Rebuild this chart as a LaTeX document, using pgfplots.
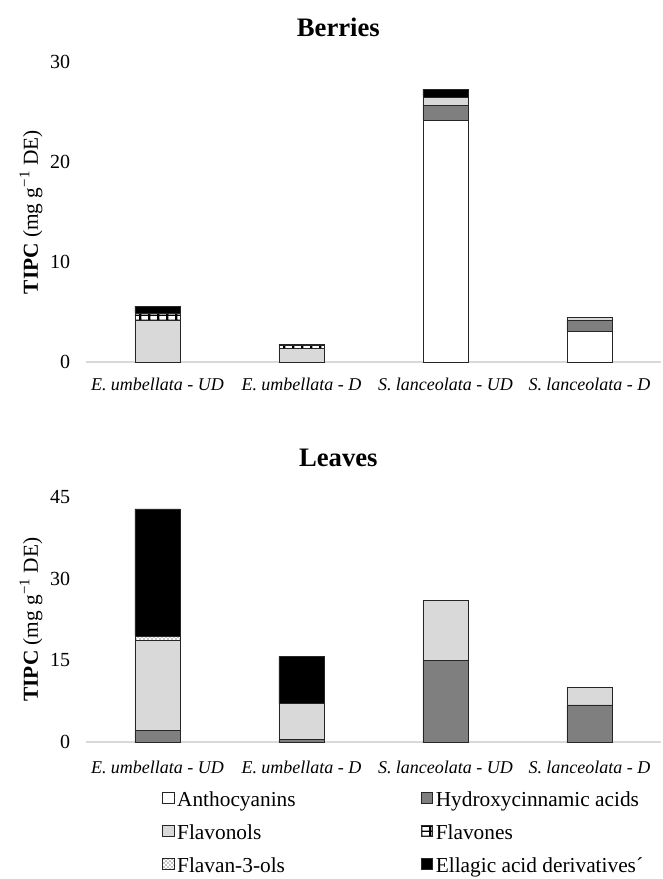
\documentclass[border=0pt]{standalone}
\usepackage{pgfplots}
\pgfplotsset{compat=1.18}
\usepackage{pgfplotstable}
\usepackage{fontspec}
\setmainfont{Liberation Serif}
\usetikzlibrary{patterns}

\pgfdeclarepatternformonly{mydash}{\pgfpointorigin}{\pgfpoint{7pt}{4pt}}{\pgfpoint{7pt}{4pt}}{%
  \pgfpathrectangle{\pgfpoint{0pt}{0pt}}{\pgfpoint{1.8pt}{4pt}}%
  \pgfpathrectangle{\pgfpoint{0pt}{0pt}}{\pgfpoint{7pt}{1.2pt}}%
  \pgfusepath{fill}}

\definecolor{hca}{HTML}{7F7F7F}
\definecolor{flo}{HTML}{D9D9D9}
\definecolor{edge}{HTML}{262626}

\pgfplotstableread{
x anth hca flo flv fl3 ell
0 0    0   4.2 0.7 0   0.7
1 0    0   1.4 0.25 0  0.1
2 24.2 1.5 0.8 0   0   0.8
3 3.1  1.1 0.3 0   0   0
}\berries

\pgfplotstableread{
x anth hca flo flv fl3 ell
0 0 2.1 16.6 0 0.7 23.4
1 0 0.4 6.6  0 0   8.7
2 0 15.0 11.0 0 0  0
3 0 6.8 3.2  0 0   0
}\leaves

\pgfplotsset{
  mychart/.style={
    scale only axis, width=432pt,
    ybar stacked, bar width=33.75pt,
    xmin=-0.5, xmax=3.5, xtick={0,1,2,3},
    xticklabels={\textit{E. umbellata - UD},\textit{E. umbellata - D},\textit{S. lanceolata - UD},\textit{S. lanceolata - D}},
    separate axis lines, axis x line*=bottom, axis y line*=left,
    y axis line style={draw=none},
    x axis line style={-, draw=black!15, line width=1.2pt},
    major tick length=0pt,
    yticklabel style={anchor=east, xshift=-8pt, font=\fontsize{15}{18}\selectfont},
    /pgf/number format/assume math mode=true,
    ymin=0,
    every axis y label/.style={at={(axis description cs:-0.0947,0.5)}, rotate=90, anchor=center, font=\fontsize{16}{19}\selectfont},
    ylabel={\textbf{TIPC} (mg g\textsuperscript{−1} DE)},
    every axis plot/.append style={draw=edge, line width=0.7pt},
    legend image code/.code={\draw[#1, line width=0.6pt] (0pt,-1.5pt) rectangle (8.5pt,7pt);},
  },
}

\begin{document}
\begin{tikzpicture}
\path[use as bounding box] (0,0) rectangle (496.5pt,-659.25pt);

\begin{axis}[mychart,
  at={(64.125pt,-271.5pt)}, anchor=south west, height=225pt,
  ymax=30, ytick={0,10,20,30},
  xticklabel style={anchor=base, yshift=-21pt, font=\fontsize{13.5}{16}\selectfont},
  title={Berries},
  title style={font=\fontsize{20}{24}\selectfont\bfseries, at={(axis description cs:0.439,1)}, anchor=base, yshift=13.5pt},
]
\addplot[fill=white] table[x=x,y=anth]{\berries};
\addplot[fill=hca] table[x=x,y=hca]{\berries};
\addplot[fill=flo] table[x=x,y=flo]{\berries};
\addplot[fill=white, postaction={pattern=mydash}] table[x=x,y=flv]{\berries};
\addplot[fill=white, postaction={pattern=crosshatch dots}] table[x=x,y=fl3]{\berries};
\addplot[fill=black] table[x=x,y=ell]{\berries};
\end{axis}

\begin{axis}[mychart,
  at={(64.125pt,-556.5pt)}, anchor=south west, height=183.75pt,
  ymax=45, ytick={0,15,30,45},
  xticklabel style={anchor=base, yshift=-23.5pt, font=\fontsize{13.5}{16}\selectfont},
  title={Leaves},
  title style={font=\fontsize{20}{24}\selectfont\bfseries, at={(axis description cs:0.439,1)}, anchor=base, yshift=17pt},
  legend columns=2,
  legend style={draw=none, fill=none, inner sep=0pt, at={(axis description cs:0.133,-0.193)}, anchor=north west,
    font=\fontsize{16}{19}\selectfont, row sep=6.25pt,
    nodes={text height=11pt, text depth=3.5pt, inner sep=2pt},
    /tikz/every even column/.append style={column sep=92pt}},
  legend cell align=left,
]
\addplot[fill=white] table[x=x,y=anth]{\leaves};
\addlegendentry{Anthocyanins}
\addplot[fill=hca] table[x=x,y=hca]{\leaves};
\addlegendentry{Hydroxycinnamic acids}
\addplot[fill=flo] table[x=x,y=flo]{\leaves};
\addlegendentry{Flavonols}
\addplot[fill=white, postaction={pattern=mydash}] table[x=x,y=flv]{\leaves};
\addlegendentry{Flavones}
\addplot[fill=white, postaction={pattern=crosshatch dots}] table[x=x,y=fl3]{\leaves};
\addlegendentry{Flavan-3-ols}
\addplot[fill=black] table[x=x,y=ell]{\leaves};
\addlegendentry{Ellagic acid derivatives´}
\end{axis}
\end{tikzpicture}
\end{document}
